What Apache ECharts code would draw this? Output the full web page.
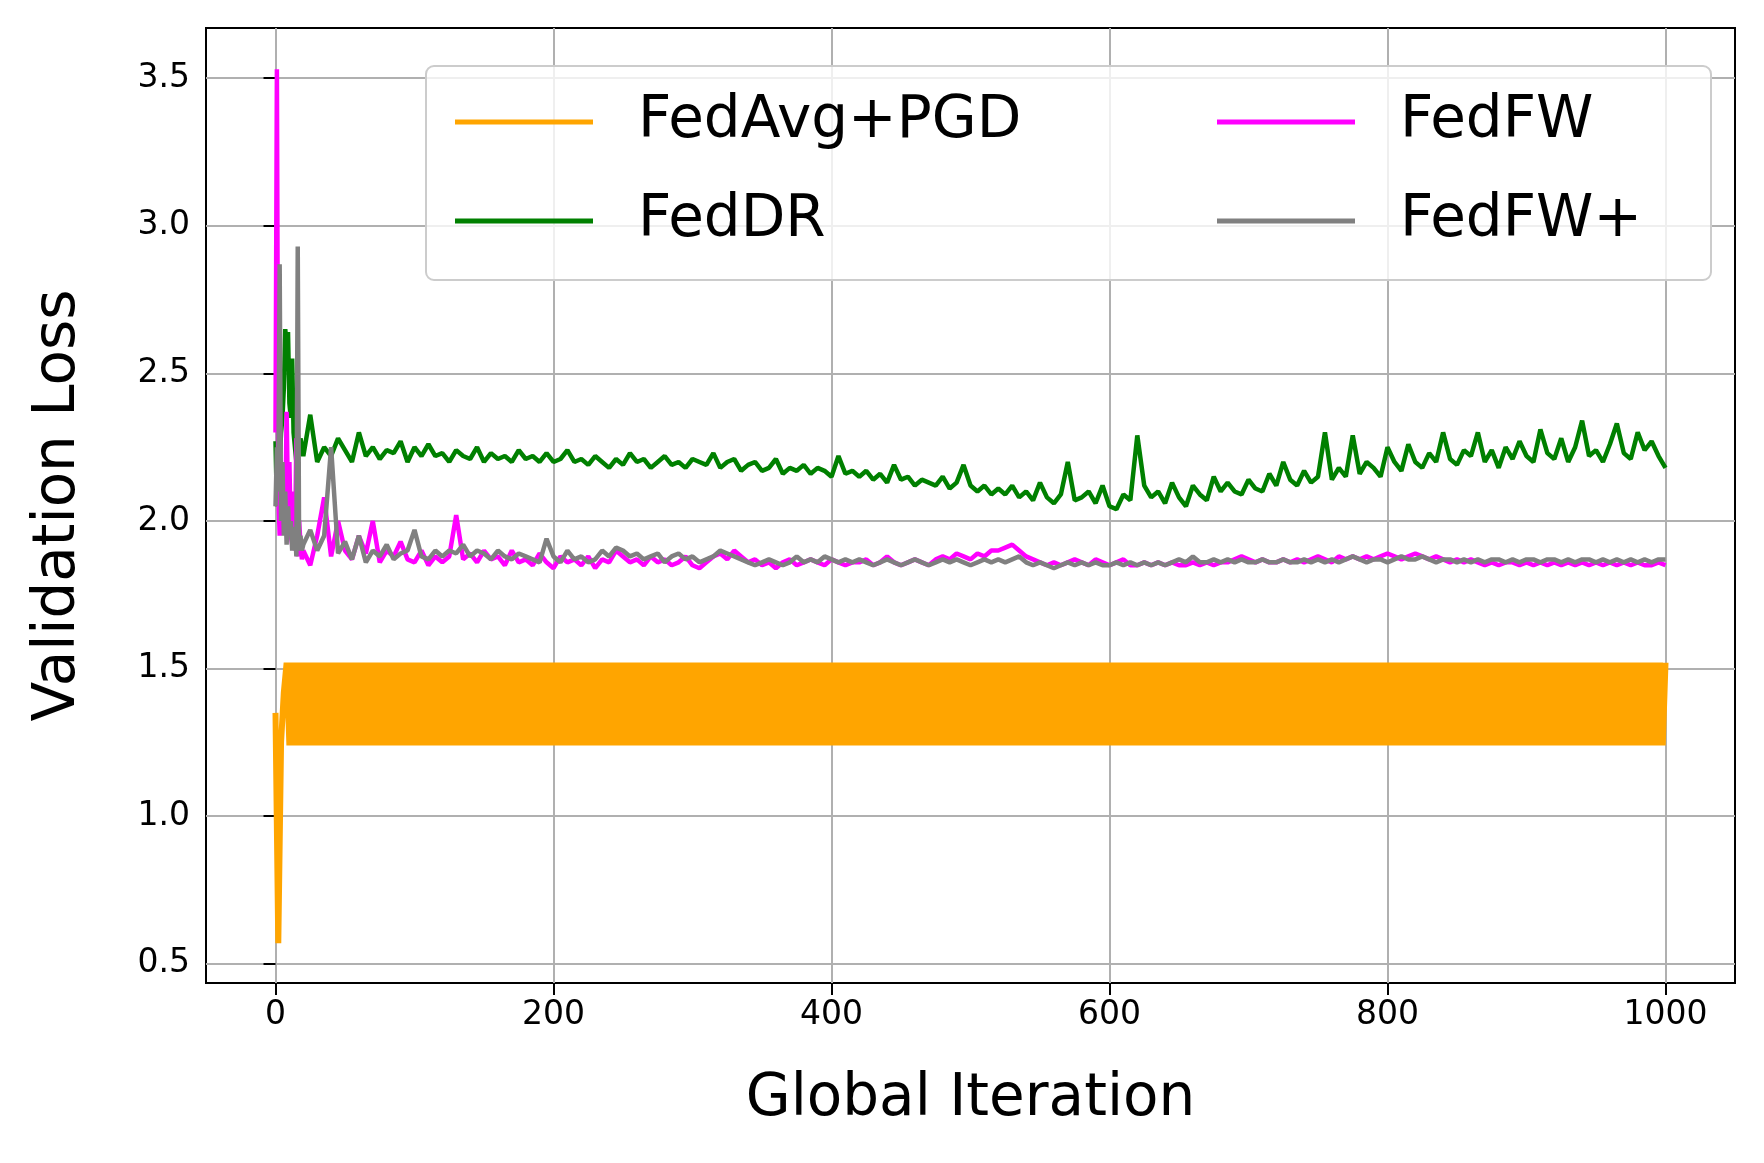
<!DOCTYPE html>
<html>
<head>
<meta charset="utf-8">
<script src="https://cdn.jsdelivr.net/npm/echarts@6/dist/echarts.min.js"></script>
<style>html,body{margin:0;padding:0;background:#fff}#chart{width:1764px;height:1163px}</style>
</head>
<body>
<div id="chart"></div>
<script>
// tick labels
var xTicks = [0, 200, 400, 600, 800, 1000];
var yTicks = [0.5, 1.0, 1.5, 2.0, 2.5, 3.0, 3.5];

// iterations: 0..19 every step, then every 5th
var iters = [];
for (var i = 0; i < 20; i++) iters.push(i);
for (var i = 20; i <= 1000; i += 5) iters.push(i);
// FedAvg+PGD sampled every 2nd iteration
var pgdIters = [];
for (var i = 0; i <= 1000; i += 2) pgdIters.push(i);

var fedDR = [2.27,2.05,2.1,2.2,2.3,2.35,2.45,2.65,2.6,2.64,2.4,2.35,2.55,2.3,2.25,2.2,2.3,2.22,2.28,2.25,
2.22,2.36,2.2,2.25,2.22,2.28,2.24,2.2,2.3,2.22,2.25,2.21,2.24,2.23,2.27,2.2,2.25,2.22,2.26,2.22,
2.23,2.2,2.24,2.22,2.21,2.25,2.2,2.23,2.21,2.22,2.2,2.24,2.21,2.22,2.2,2.23,2.2,2.21,2.24,2.2,
2.21,2.19,2.22,2.2,2.18,2.21,2.19,2.23,2.2,2.21,2.18,2.2,2.22,2.19,2.2,2.18,2.21,2.2,2.19,2.23,
2.18,2.2,2.21,2.17,2.19,2.2,2.17,2.18,2.21,2.16,2.18,2.17,2.19,2.16,2.18,2.17,2.15,2.22,2.16,2.17,
2.15,2.17,2.14,2.16,2.13,2.19,2.14,2.15,2.12,2.14,2.13,2.12,2.15,2.11,2.13,2.19,2.12,2.1,2.12,2.09,
2.11,2.09,2.12,2.08,2.1,2.07,2.13,2.08,2.06,2.09,2.2,2.07,2.08,2.1,2.06,2.12,2.05,2.04,2.09,2.07,
2.29,2.12,2.08,2.1,2.06,2.13,2.08,2.05,2.12,2.09,2.07,2.15,2.1,2.13,2.1,2.09,2.14,2.11,2.1,2.16,
2.12,2.2,2.14,2.12,2.17,2.13,2.15,2.3,2.14,2.18,2.15,2.29,2.16,2.2,2.18,2.15,2.25,2.2,2.17,2.26,
2.2,2.18,2.23,2.2,2.3,2.21,2.19,2.24,2.22,2.3,2.2,2.24,2.18,2.25,2.21,2.27,2.22,2.2,2.31,2.23,
2.21,2.28,2.2,2.25,2.34,2.22,2.24,2.2,2.26,2.33,2.23,2.21,2.3,2.24,2.27,2.22,2.18];

var fedFW = [2.3,3.53,2.1,1.95,2.05,2.2,1.96,2.0,2.37,2.05,2.2,1.95,1.92,2.1,1.9,2.28,1.88,2.0,1.92,1.87,
1.9,1.85,1.95,2.08,1.88,2.0,1.9,1.87,1.95,1.89,2.0,1.86,1.9,1.88,1.93,1.87,1.86,1.9,1.85,1.88,
1.86,1.88,2.02,1.87,1.89,1.86,1.9,1.87,1.88,1.85,1.9,1.86,1.87,1.85,1.89,1.86,1.84,1.88,1.86,1.87,
1.85,1.88,1.84,1.87,1.86,1.9,1.88,1.86,1.87,1.85,1.88,1.86,1.87,1.85,1.86,1.88,1.85,1.84,1.86,1.88,
1.89,1.87,1.9,1.88,1.86,1.87,1.85,1.86,1.84,1.86,1.87,1.85,1.86,1.87,1.86,1.85,1.87,1.86,1.85,1.86,
1.86,1.87,1.85,1.86,1.88,1.86,1.85,1.86,1.87,1.86,1.85,1.87,1.88,1.87,1.89,1.88,1.87,1.89,1.88,1.9,
1.9,1.91,1.92,1.9,1.88,1.87,1.86,1.85,1.86,1.85,1.86,1.87,1.86,1.85,1.87,1.86,1.85,1.86,1.87,1.85,
1.85,1.86,1.85,1.86,1.85,1.86,1.85,1.85,1.86,1.85,1.86,1.85,1.86,1.86,1.87,1.88,1.87,1.86,1.87,1.86,
1.86,1.87,1.86,1.87,1.86,1.87,1.88,1.87,1.86,1.88,1.87,1.88,1.87,1.88,1.87,1.88,1.89,1.88,1.87,1.88,
1.89,1.88,1.87,1.88,1.87,1.86,1.87,1.86,1.87,1.86,1.85,1.86,1.85,1.86,1.86,1.85,1.86,1.85,1.86,1.85,
1.86,1.85,1.86,1.85,1.86,1.85,1.86,1.85,1.86,1.85,1.86,1.85,1.86,1.85,1.85,1.86,1.85];

var fedFWPlus = [2.05,2.25,2.1,2.87,2.0,2.2,1.95,2.1,1.92,2.05,1.95,2.0,1.9,1.93,1.98,1.88,2.93,1.9,1.95,1.9,
1.92,1.97,1.9,1.95,2.25,1.89,1.93,1.87,1.95,1.86,1.9,1.88,1.92,1.87,1.89,1.9,1.97,1.88,1.87,1.9,
1.88,1.9,1.89,1.92,1.88,1.9,1.89,1.87,1.9,1.88,1.87,1.89,1.88,1.87,1.86,1.94,1.88,1.86,1.9,1.87,
1.88,1.86,1.87,1.9,1.88,1.91,1.9,1.88,1.89,1.87,1.88,1.89,1.86,1.88,1.89,1.87,1.88,1.86,1.87,1.88,
1.9,1.89,1.88,1.87,1.86,1.85,1.86,1.87,1.86,1.85,1.86,1.88,1.86,1.87,1.86,1.88,1.87,1.86,1.87,1.86,
1.87,1.86,1.85,1.86,1.87,1.86,1.85,1.86,1.87,1.86,1.85,1.86,1.87,1.86,1.87,1.86,1.85,1.86,1.87,1.86,
1.87,1.86,1.87,1.88,1.86,1.85,1.86,1.85,1.84,1.85,1.86,1.85,1.86,1.85,1.86,1.85,1.85,1.86,1.85,1.86,
1.85,1.86,1.85,1.86,1.85,1.86,1.87,1.86,1.88,1.86,1.86,1.87,1.86,1.87,1.86,1.87,1.86,1.86,1.87,1.86,
1.86,1.87,1.86,1.86,1.87,1.86,1.87,1.86,1.87,1.86,1.87,1.88,1.87,1.86,1.87,1.87,1.86,1.87,1.88,1.87,
1.87,1.88,1.87,1.86,1.87,1.87,1.86,1.87,1.86,1.87,1.86,1.87,1.87,1.86,1.87,1.86,1.87,1.87,1.86,1.87,
1.87,1.86,1.87,1.86,1.87,1.87,1.86,1.87,1.86,1.87,1.86,1.87,1.86,1.87,1.86,1.87,1.87];

var fedAvgPGD = [1.35,0.57,1.25,1.42,1.52,
1.24,1.52,1.24,1.52,1.24,1.52,1.24,1.52,1.24,1.52,1.24,1.52,1.24,1.52,1.24,1.52,1.24,1.52,1.24,1.52,
1.24,1.52,1.24,1.52,1.24,1.52,1.24,1.52,1.24,1.52,1.24,1.52,1.24,1.52,1.24,1.52,1.24,1.52,1.24,1.52,
1.24,1.52,1.24,1.52,1.24,1.52,1.24,1.52,1.24,1.52,1.24,1.52,1.24,1.52,1.24,1.52,1.24,1.52,1.24,1.52,
1.24,1.52,1.24,1.52,1.24,1.52,1.24,1.52,1.24,1.52,1.24,1.52,1.24,1.52,1.24,1.52,1.24,1.52,1.24,1.52,
1.24,1.52,1.24,1.52,1.24,1.52,1.24,1.52,1.24,1.52,1.24,1.52,1.24,1.52,1.24,1.52,1.24,1.52,1.24,1.52,
1.24,1.52,1.24,1.52,1.24,1.52,1.24,1.52,1.24,1.52,1.24,1.52,1.24,1.52,1.24,1.52,1.24,1.52,1.24,1.52,
1.24,1.52,1.24,1.52,1.24,1.52,1.24,1.52,1.24,1.52,1.24,1.52,1.24,1.52,1.24,1.52,1.24,1.52,1.24,1.52,
1.24,1.52,1.24,1.52,1.24,1.52,1.24,1.52,1.24,1.52,1.24,1.52,1.24,1.52,1.24,1.52,1.24,1.52,1.24,1.52,
1.24,1.52,1.24,1.52,1.24,1.52,1.24,1.52,1.24,1.52,1.24,1.52,1.24,1.52,1.24,1.52,1.24,1.52,1.24,1.52,
1.24,1.52,1.24,1.52,1.24,1.52,1.24,1.52,1.24,1.52,1.24,1.52,1.24,1.52,1.24,1.52,1.24,1.52,1.24,1.52,
1.24,1.52,1.24,1.52,1.24,1.52,1.24,1.52,1.24,1.52,1.24,1.52,1.24,1.52,1.24,1.52,1.24,1.52,1.24,1.52,
1.24,1.52,1.24,1.52,1.24,1.52,1.24,1.52,1.24,1.52,1.24,1.52,1.24,1.52,1.24,1.52,1.24,1.52,1.24,1.52,
1.24,1.52,1.24,1.52,1.24,1.52,1.24,1.52,1.24,1.52,1.24,1.52,1.24,1.52,1.24,1.52,1.24,1.52,1.24,1.52,
1.24,1.52,1.24,1.52,1.24,1.52,1.24,1.52,1.24,1.52,1.24,1.52,1.24,1.52,1.24,1.52,1.24,1.52,1.24,1.52,
1.24,1.52,1.24,1.52,1.24,1.52,1.24,1.52,1.24,1.52,1.24,1.52,1.24,1.52,1.24,1.52,1.24,1.52,1.24,1.52,
1.24,1.52,1.24,1.52,1.24,1.52,1.24,1.52,1.24,1.52,1.24,1.52,1.24,1.52,1.24,1.52,1.24,1.52,1.24,1.52,
1.24,1.52,1.24,1.52,1.24,1.52,1.24,1.52,1.24,1.52,1.24,1.52,1.24,1.52,1.24,1.52,1.24,1.52,1.24,1.52,
1.24,1.52,1.24,1.52,1.24,1.52,1.24,1.52,1.24,1.52,1.24,1.52,1.24,1.52,1.24,1.52,1.24,1.52,1.24,1.52,
1.24,1.52,1.24,1.52,1.24,1.52,1.24,1.52,1.24,1.52,1.24,1.52,1.24,1.52,1.24,1.52,1.24,1.52,1.24,1.52,
1.24,1.52,1.24,1.52,1.24,1.52,1.24,1.52,1.24,1.52,1.24,1.52,1.24,1.52,1.24,1.52,1.24,1.52,1.24,1.52,
1.24,1.52,1.24,1.52,1.24,1.52,1.24,1.52,1.24,1.52,1.24,1.52,1.24,1.52,1.24,1.52,1.24,1.52,1.24,1.52,
1.24,1.52,1.24,1.52,1.24,1.52,1.24,1.52,1.24,1.52,1.24,1.52,1.24,1.52,1.24,1.52,1.24,1.52,1.24,1.52,
1.24,1.52,1.24,1.52,1.24,1.52,1.24,1.52,1.24,1.52,1.24,1.52,1.24,1.52,1.24,1.52,1.24,1.52,1.24,1.52,
1.24,1.52,1.24,1.52,1.24,1.52,1.24,1.52,1.24,1.52,1.24,1.52,1.24,1.52,1.24,1.52,1.24,1.52,1.24,1.52,
1.24,1.52,1.24,1.52,1.24,1.52,1.24,1.52,1.24,1.52,1.24,1.52,1.24,1.52,1.24,1.52];

function zip(xs, ys) {
  var out = [];
  for (var i = 0; i < Math.min(xs.length, ys.length); i++) out.push([xs[i], ys[i]]);
  return out;
}

var font = 'DejaVu Sans';
var chart = echarts.init(document.getElementById('chart'));
var line = function (name, data, color, w) {
  return {
    name: name, type: 'line', data: data, showSymbol: false, symbol: 'none',
    lineStyle: { color: color, width: w || 4.5 }, itemStyle: { color: color },
    animation: false, clip: true
  };
};
var legendCommon = {
  orient: 'vertical', icon: 'rect', itemWidth: 138, itemHeight: 5, itemGap: 41,
  textStyle: { fontFamily: font, fontSize: 58, color: '#000', lineHeight: 58, padding: [0, 0, 0, 40] }
};

option = {
  backgroundColor: '#fff',
  animation: false,
  grid: { left: 206, right: 29, top: 28, bottom: 180, show: true, borderColor: '#000', borderWidth: 2 },
  graphic: [{
    type: 'rect', left: 425, top: 65, z: 5,
    shape: { width: 1285, height: 214, r: 8 },
    style: { fill: 'rgba(255,255,255,0.8)', stroke: '#cccccc', lineWidth: 2 }
  }],
  legend: [
    Object.assign({ left: 450, top: 88, data: ['FedAvg+PGD', 'FedDR'], z: 10 }, legendCommon),
    Object.assign({ left: 1212, top: 88, data: ['FedFW', 'FedFW+'], z: 10 }, legendCommon)
  ],
  xAxis: {
    type: 'value', min: -50, max: 1050,
    name: 'Global Iteration', nameLocation: 'middle', nameGap: 88,
    nameTextStyle: { fontFamily: font, fontSize: 58, color: '#000' },
    axisLine: { show: false },
    axisTick: { show: true, length: 12, lineStyle: { color: '#000', width: 2 }, customValues: xTicks },
    axisLabel: { fontFamily: font, fontSize: 33, color: '#000', margin: 16, customValues: xTicks,
      formatter: function (v) { return String(v); } },
    splitLine: { show: true, lineStyle: { color: '#b0b0b0', width: 2 } }
  },
  yAxis: {
    type: 'value', min: 0.435, max: 3.67,
    name: 'Validation Loss', nameLocation: 'middle', nameGap: 118,
    nameTextStyle: { fontFamily: font, fontSize: 58, color: '#000' },
    axisLine: { show: false },
    axisTick: { show: true, length: 12, lineStyle: { color: '#000', width: 2 }, customValues: yTicks },
    axisLabel: { fontFamily: font, fontSize: 33, color: '#000', margin: 16, customValues: yTicks,
      formatter: function (v) { return v.toFixed(1); } },
    splitLine: { show: true, lineStyle: { color: '#b0b0b0', width: 2 } }
  },
  series: [
    line('FedAvg+PGD', zip(pgdIters, fedAvgPGD), '#ffa500', 6),
    line('FedDR', zip(iters, fedDR), '#008000'),
    line('FedFW', zip(iters, fedFW), '#ff00ff'),
    line('FedFW+', zip(iters, fedFWPlus), '#808080')
  ]
};
chart.setOption(option);
</script>
</body>
</html>
